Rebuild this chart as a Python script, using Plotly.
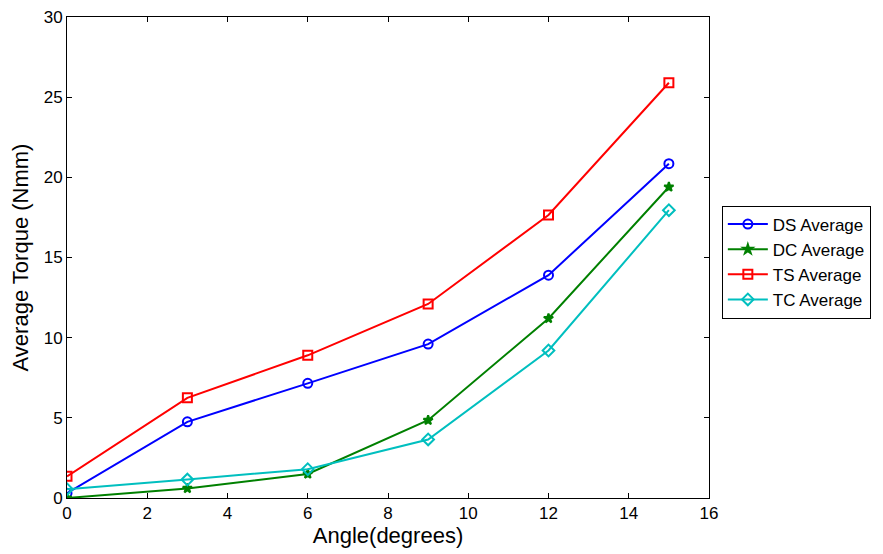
import plotly.graph_objects as go

angles = [0, 3, 6, 9, 12, 15]
ds_avg = [0.3, 4.75, 7.15, 9.6, 13.9, 20.85]
dc_avg = [0.0, 0.6, 1.5, 4.85, 11.2, 19.4]
ts_avg = [1.35, 6.25, 8.9, 12.1, 17.65, 25.9]
tc_avg = [0.55, 1.15, 1.8, 3.65, 9.2, 17.95]

series = [
    ("DS Average", ds_avg, "#0000FF", "circle-open", 9),
    ("DC Average", dc_avg, "#008000", "star", 7),
    ("TS Average", ts_avg, "#FF0000", "square-open", 9),
    ("TC Average", tc_avg, "#00BFBF", "diamond-open", 9),
]

FONT = "Liberation Sans, Arial"

fig = go.Figure()
for name, vals, color, sym, size in series:
    fig.add_trace(go.Scatter(
        x=angles, y=vals, name=name, mode="lines+markers",
        line=dict(color=color, width=2),
        marker=dict(symbol=sym, size=size, color=color, line=dict(color=color, width=2)),
    ))

axis_common = dict(
    showgrid=False, zeroline=False, showline=True, linecolor="black", linewidth=1,
    mirror="ticks", ticks="inside", ticklen=5, tickcolor="black", automargin=False,
    tickfont=dict(family=FONT, size=17, color="black"), ticklabeloverflow="allow",
)
fig.update_xaxes(range=[0, 16], dtick=2,
                 title=dict(text="Angle(degrees)", font=dict(family=FONT, size=22, color="black"), standoff=2),
                 **axis_common)
fig.update_yaxes(range=[0, 30], dtick=5,
                 title=dict(text="Average Torque (Nmm)", font=dict(family=FONT, size=22, color="black"), standoff=10),
                 **axis_common)

fig.update_layout(
    width=883, height=554,
    margin=dict(l=59, r=182, t=9, b=64),
    plot_bgcolor="white", paper_bgcolor="white",
    font=dict(family=FONT, color="black"),
    legend=dict(x=1.02, y=0.608, xanchor="left", yanchor="top",
                bordercolor="black", borderwidth=1, bgcolor="white",
                font=dict(family=FONT, size=17, color="black"), tracegroupgap=0, itemwidth=40),
    showlegend=True,
)

fig.write_html("out.html")
